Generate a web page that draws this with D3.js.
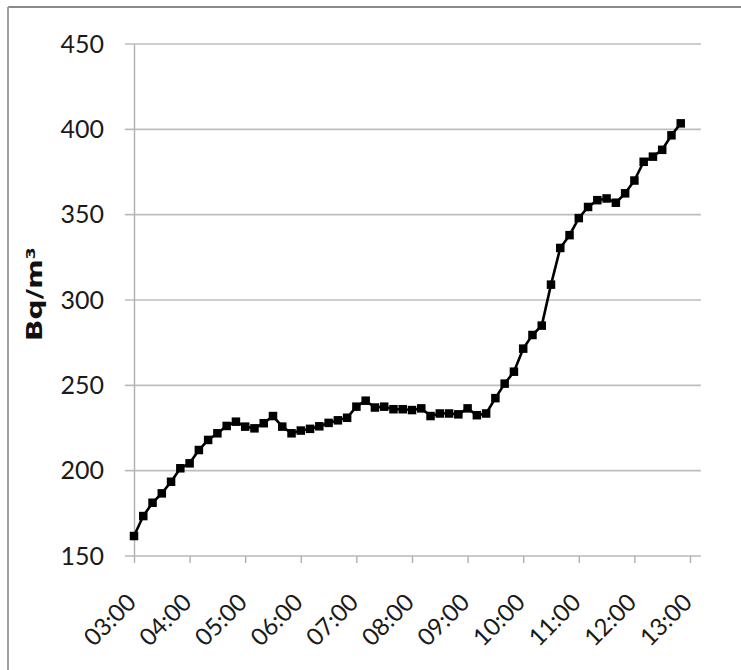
<!DOCTYPE html>
<html>
<head>
<meta charset="utf-8">
<script src="https://cdn.jsdelivr.net/npm/d3@7"></script>
<style>
  html, body { margin: 0; padding: 0; background: #fff; }
  svg { display: block; }
</style>
</head>
<body>
<svg id="chart" width="741" height="670"></svg>
<script>
// Radon concentration readings, one every 10 minutes
const times = [
  "03:00","03:10","03:20","03:30","03:40","03:50",
  "04:00","04:10","04:20","04:30","04:40","04:50",
  "05:00","05:10","05:20","05:30","05:40","05:50",
  "06:00","06:10","06:20","06:30","06:40","06:50",
  "07:00","07:10","07:20","07:30","07:40","07:50",
  "08:00","08:10","08:20","08:30","08:40","08:50",
  "09:00","09:10","09:20","09:30","09:40","09:50",
  "10:00","10:10","10:20","10:30","10:40","10:50",
  "11:00","11:10","11:20","11:30","11:40","11:50",
  "12:00","12:10","12:20","12:30","12:40","12:50"
];
const values = [
  161.7, 173.4, 181.2, 186.7, 193.5, 201.4,
  204.3, 212.1, 218.0, 221.9, 226.2, 228.7,
  225.8, 224.8, 227.8, 232.0, 225.8, 221.9,
  223.5, 224.5, 226.0, 228.0, 229.5, 231.0,
  237.5, 241.0, 237.0, 237.5, 236.0, 236.0,
  235.5, 236.5, 232.0, 233.5, 233.5, 233.0,
  236.5, 232.5, 233.5, 242.5, 251.0, 258.0,
  271.5, 279.5, 285.0, 309.0, 330.5, 338.0,
  348.0, 354.5, 358.5, 359.5, 357.0, 362.5,
  370.0, 381.0, 384.0, 388.0, 396.5, 403.5
];
const xTickLabels = ["03:00","04:00","05:00","06:00","07:00","08:00","09:00","10:00","11:00","12:00","13:00"];
const yTicks = [150, 200, 250, 300, 350, 400, 450];
const yTitle = "Bq/m³";

const toMin = s => { const [h, m] = s.split(":").map(Number); return h * 60 + m; };
const data = times.map((t, i) => ({ t: toMin(t), v: values[i] }));

const svg = d3.select("#chart");
const plotLeft = 134, plotRight = 690, plotTop = 44, plotBottom = 556;
const gridLeft = 125, gridRight = 701;

const x = d3.scaleLinear()
  .domain([toMin(xTickLabels[0]), toMin(xTickLabels[xTickLabels.length - 1])])
  .range([plotLeft, plotRight]);
const y = d3.scaleLinear().domain([150, 450]).range([plotBottom, plotTop]);

// frame
svg.append("line").attr("x1", 8).attr("x2", 741).attr("y1", 7).attr("y2", 7)
  .attr("stroke", "#8a8a8a").attr("stroke-width", 2);
svg.append("line").attr("x1", 8).attr("x2", 8).attr("y1", 7).attr("y2", 670)
  .attr("stroke", "#a0a0a0").attr("stroke-width", 2);

// horizontal gridlines
svg.append("g").selectAll("line").data(yTicks.slice(1)).join("line")
  .attr("x1", gridLeft).attr("x2", gridRight)
  .attr("y1", d => y(d)).attr("y2", d => y(d))
  .attr("stroke", "#bdbdbd").attr("stroke-width", 1.6);

// y axis
const yAxis = d3.axisLeft(y).tickValues(yTicks).tickSize(0).tickPadding(0);
const gy = svg.append("g").attr("transform", `translate(${plotLeft},0)`).call(yAxis);
gy.select(".domain").attr("stroke", "#b0b0b0").attr("stroke-width", 1.4);
gy.selectAll("text")
  .attr("x", 104 - plotLeft)
  .attr("font-family", "Lato, 'Open Sans', sans-serif")
  .attr("font-size", 25)
  .attr("fill", "#1a1a1a")
  .attr("text-anchor", "end");

// x axis
const xAxis = d3.axisBottom(x).tickValues(xTickLabels.map(toMin))
  .tickFormat((d, i) => xTickLabels[i]).tickSize(7).tickSizeOuter(0);
const gx = svg.append("g").attr("transform", `translate(0,${plotBottom})`).call(xAxis);
gx.select(".domain").attr("d", `M${gridLeft},0H${gridRight}`)
  .attr("stroke", "#b8b8b8").attr("stroke-width", 1.6);
gx.selectAll(".tick line").attr("stroke", "#b0b0b0").attr("stroke-width", 1.4);
gx.selectAll(".tick text")
  .attr("font-family", "Lato, 'Open Sans', sans-serif")
  .attr("font-size", 24)
  .attr("fill", "#1a1a1a")
  .attr("text-anchor", "end")
  .attr("y", 0).attr("dy", 0)
  .attr("transform", "translate(3,48) rotate(-45)");

// y axis title
svg.append("text")
  .attr("transform", "translate(42,294) rotate(-90)")
  .attr("text-anchor", "middle")
  .attr("font-family", "'DejaVu Sans', sans-serif")
  .attr("font-weight", "bold")
  .attr("font-size", 21)
  .attr("textLength", 94)
  .attr("lengthAdjust", "spacingAndGlyphs")
  .attr("fill", "#111")
  .text(yTitle);

// series line
const line = d3.line().x(d => x(d.t)).y(d => y(d.v));
svg.append("path").datum(data)
  .attr("d", line)
  .attr("fill", "none")
  .attr("stroke", "#000")
  .attr("stroke-width", 2.6)
  .attr("stroke-linejoin", "round");

// square markers
const ms = 8.5;
svg.append("g").selectAll("rect").data(data).join("rect")
  .attr("x", d => x(d.t) - ms / 2)
  .attr("y", d => y(d.v) - ms / 2)
  .attr("width", ms).attr("height", ms)
  .attr("fill", "#000");
</script>
</body>
</html>
